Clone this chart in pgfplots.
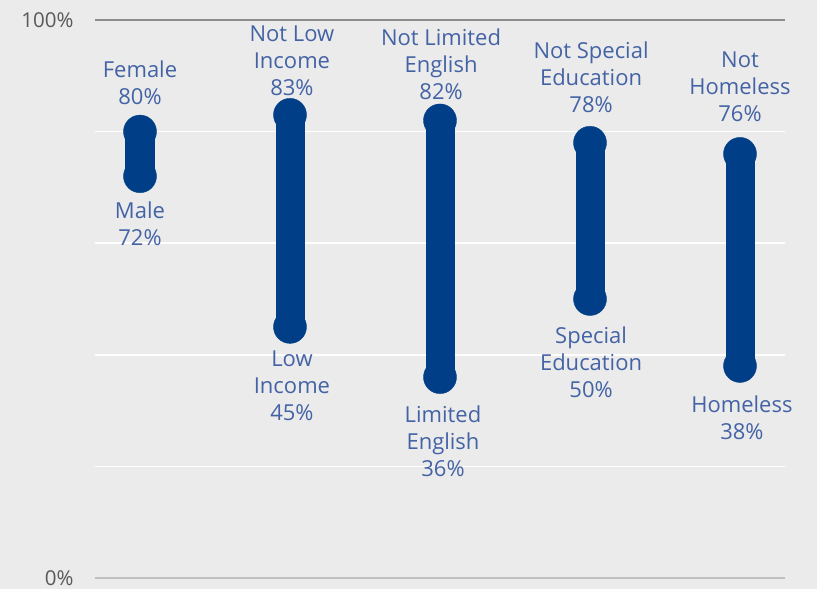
\documentclass[border=0pt]{standalone}
\usepackage{pgfplots}
\pgfplotsset{compat=1.18}
\usepackage{fontspec}
\setmainfont{Open Sans}
\definecolor{bg}{HTML}{EBEBEB}
\definecolor{navy}{HTML}{003F87}
\definecolor{lbl}{HTML}{4463A5}
\definecolor{tk}{HTML}{595959}
\tikzset{lab/.style={font=\fontsize{22}{27}\selectfont, text=lbl, align=center, inner sep=0pt}}
\begin{document}
\begin{tikzpicture}[x=1pt,y=1pt]
\fill[bg] (0,0) rectangle (817,589);
\begin{axis}[at={(95pt,11pt)}, anchor=south west, scale only axis,
  width=690pt, height=558pt, xmin=-0.3, xmax=4.3, ymin=0, ymax=100,
  axis line style={draw=none}, major tick length=0pt, clip=false,
  xtick=\empty, ytick={20,40,60,80}, yticklabels={},
  ymajorgrids, grid style={white, line width=1.5pt},
  extra y ticks={0,100}, extra y tick labels={0\%,100\%},
  extra y tick style={ymajorgrids=false},
  yticklabel style={font=\fontsize{20.5}{23}\selectfont, text=tk, anchor=east, xshift=-18pt},
]
\addplot[color=black!45, line width=1.5pt, forget plot] coordinates {(-0.3,100)(4.3,100)};
\addplot[color=black!25, line width=2pt, forget plot] coordinates {(-0.3,0)(4.3,0)};
\addplot[navy, line width=29pt, forget plot] coordinates {(0,72)(0,80)};
\addplot[navy, line width=29pt, forget plot] coordinates {(1,45)(1,83)};
\addplot[navy, line width=29pt, forget plot] coordinates {(2,36)(2,82)};
\addplot[navy, line width=29pt, forget plot] coordinates {(3,50)(3,78)};
\addplot[navy, line width=29pt, forget plot] coordinates {(4,38)(4,76)};
\addplot[only marks, mark=*, mark size=16.5pt, mark options={draw=navy, fill=navy}]
  coordinates {(0,72)(0,80)(1,45)(1,83)(2,36)(2,82)(3,50)(3,78)(4,38)(4,76)};
\node[lab] at (axis cs:0,88.71) {Female\\80\%};
\node[lab] at (axis cs:0,63.44) {Male\\72\%};
\node[lab] at (axis cs:1.013,92.65) {Not Low\\Income\\83\%};
\node[lab] at (axis cs:1.013,34.41) {Low\\Income\\45\%};
\node[lab] at (axis cs:2.007,92.11) {Not Limited\\English\\82\%};
\node[lab] at (axis cs:2.02,24.55) {Limited\\English\\36\%};
\node[lab] at (axis cs:3.007,89.78) {Not Special\\Education\\78\%};
\node[lab] at (axis cs:3.007,38.71) {Special\\Education\\50\%};
\node[lab] at (axis cs:4,87.99) {Not\\Homeless\\76\%};
\node[lab] at (axis cs:4.013,28.67) {Homeless\\38\%};
\end{axis}
\end{tikzpicture}
\end{document}
